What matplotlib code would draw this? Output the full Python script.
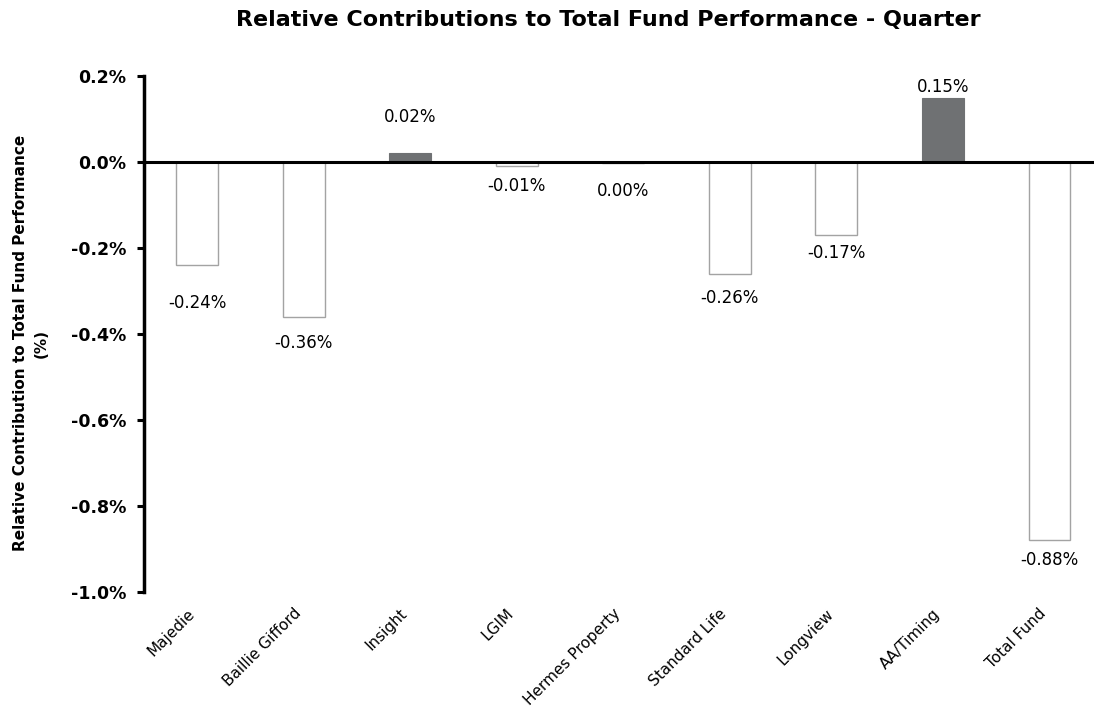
import matplotlib.pyplot as plt
import numpy as np

managers = ['Majedie', 'Baillie Gifford', 'Insight', 'LGIM', 'Hermes Property',
            'Standard Life', 'Longview', 'AA/Timing', 'Total Fund']
contrib = [-0.24, -0.36, 0.02, -0.01, -0.003, -0.26, -0.17, 0.15, -0.88]
# label offsets from bar end, in pixels (as placed in the original)
label_off = [-38, -26, 36, -20, -28, -24, -18, 10, -20]
yticks = [-1.0, -0.8, -0.6, -0.4, -0.2, 0.0, 0.2]

fig = plt.figure(figsize=(10.94, 7.14), dpi=100)
ax = fig.add_axes([144 / 1094, 1 - 592 / 714, 1 - 144 / 1094, (592 - 76) / 714])

x = np.arange(len(managers))
for xi, v in zip(x, contrib):
    if v > 0:
        ax.bar(xi, v, width=0.39, color='#6f7173', edgecolor='#6f7173', lw=0.8, zorder=2)
    else:
        ax.bar(xi, v, width=0.39, color='white', edgecolor='#a3a3a3', lw=1.0, zorder=2)

for xi, v, off in zip(x, contrib, label_off):
    txt = f'{v:.2f}%'.replace('-0.00', '0.00')
    ax.annotate(txt, (xi, v), xytext=(0, off * 0.72), textcoords='offset points',
                ha='center', va='center', fontsize=12)

ax.axhline(0, color='black', lw=2.2, zorder=3)

ax.set_xlim(-0.5, 8.42)
ax.set_ylim(-1.0, 0.2)
ax.set_yticks(yticks)
ax.set_yticklabels([f'{t:.1f}%' for t in yticks], fontweight='bold', fontsize=12.5)
ax.tick_params(axis='y', direction='out', length=5, width=2.2, pad=8)
ax.set_xticks(x)
ax.set_xticklabels(managers, rotation=45, ha='right', fontsize=11)
ax.tick_params(axis='x', length=0, pad=10)

for s in ['top', 'right', 'bottom']:
    ax.spines[s].set_visible(False)
ax.spines['left'].set_linewidth(2.5)

fig.text(31 / 1094, 1 - 343 / 714, 'Relative Contribution to Total Fund Performance\n(%)',
         rotation=90, ha='center', va='center', multialignment='center',
         fontweight='bold', fontsize=11, linespacing=1.5)

fig.text(608 / 1094, 1 - 20 / 714, 'Relative Contributions to Total Fund Performance - Quarter',
         ha='center', va='center', fontweight='bold', fontsize=16)

fig.savefig('out.png', dpi=100)
